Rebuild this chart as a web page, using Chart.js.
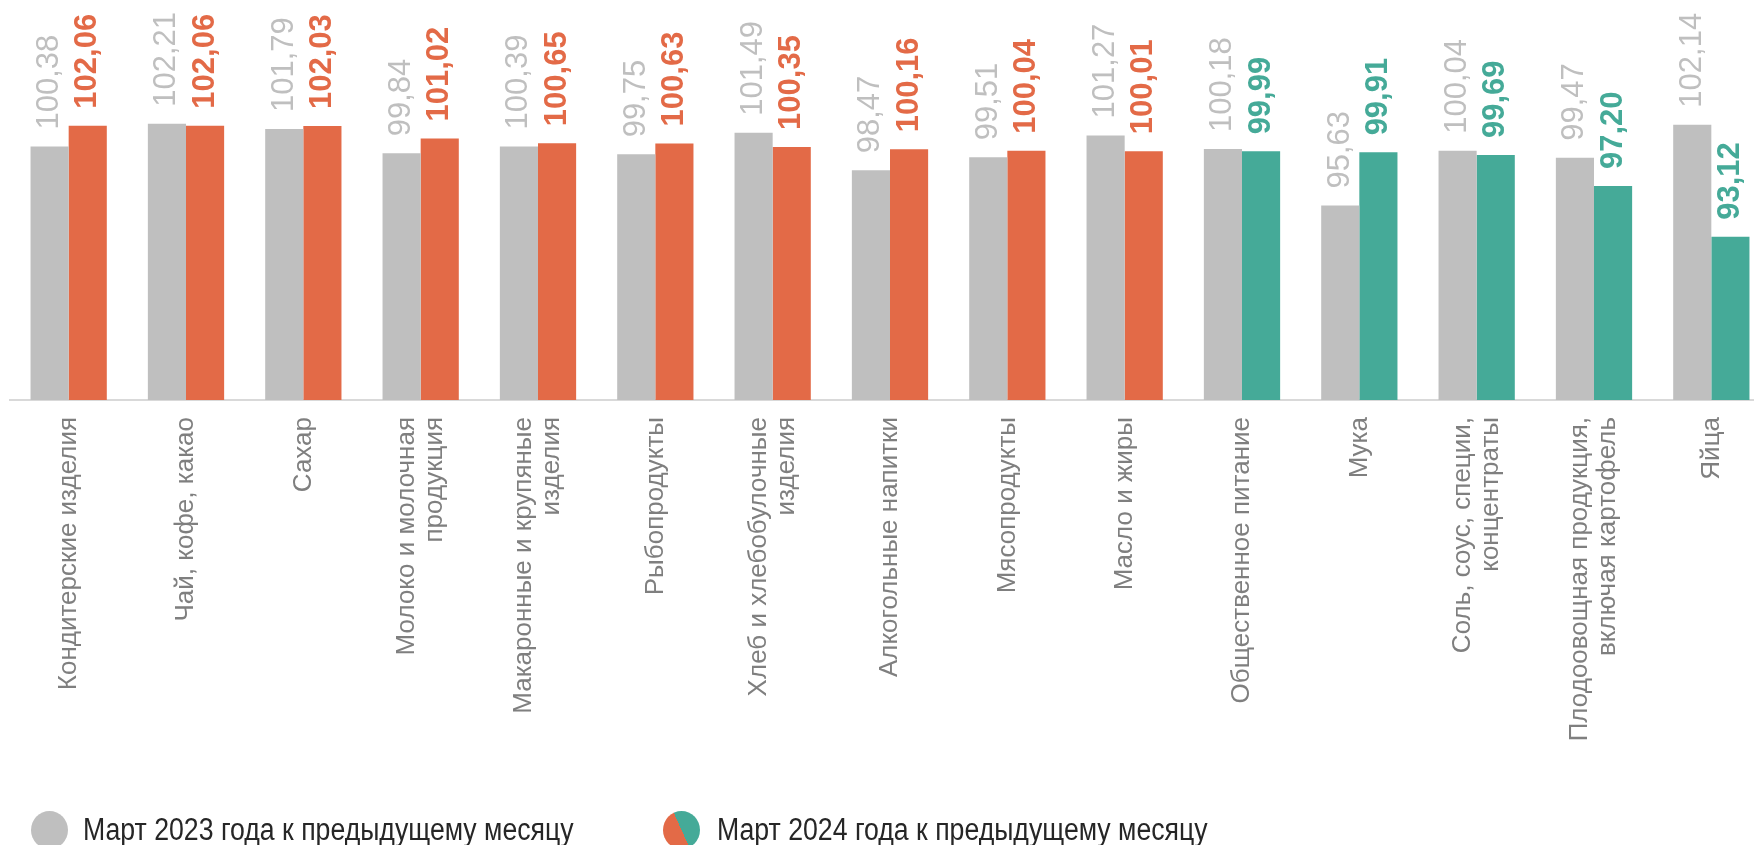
<!DOCTYPE html>
<html lang="ru">
<head>
<meta charset="utf-8">
<script src="https://cdn.jsdelivr.net/npm/chart.js@4.4.1/dist/chart.umd.min.js"></script>
<style>
    html, body { margin: 0; padding: 0; background: #fff; overflow: hidden; }
    #wrap { position: relative; width: 1754px; height: 845px; overflow: hidden; }
    #chart { position: absolute; left: 0; top: 0; }
    .legend-item { position: absolute; top: 811px; height: 38px; }
    .dot { position: absolute; top: 0; width: 37px; height: 38px; border-radius: 50%; }
    .legend-text {
        position: absolute; top: 1px; white-space: nowrap;
        font: 31px "Liberation Sans", Arial, sans-serif; color: #262626;
        transform: scaleX(0.86); transform-origin: left center; line-height: 36px;
    }
</style>
</head>
<body>
<div id="wrap">
    <canvas id="chart" width="1770" height="845"></canvas>
    <div class="legend-item" style="left:31px">
        <div class="dot" style="background:#bfbfbf"></div>
        <div class="legend-text" style="left:52px">Март 2023 года к предыдущему месяцу</div>
    </div>
    <div class="legend-item" style="left:663px">
        <div class="dot" style="background:linear-gradient(66deg, #e36a47 50%, #45aa98 50%)"></div>
        <div class="legend-text" style="left:54px">Март 2024 года к предыдущему месяцу</div>
    </div>
</div>
<script>
// categories (multi-line ones split as in the source)
const categories = [
    "Кондитерские изделия",
    "Чай, кофе, какао",
    "Сахар",
    ["Молоко и молочная", "продукция"],
    ["Макаронные и крупяные", "изделия"],
    "Рыбопродукты",
    ["Хлеб и хлебобулочные", "изделия"],
    "Алкогольные напитки",
    "Мясопродукты",
    "Масло и жиры",
    "Общественное питание",
    "Мука",
    ["Соль, соус, специи,", "концентраты"],
    ["Плодоовощная продукция,", "включая картофель"],
    "Яйца"
];

const march2023 = [100.38, 102.21, 101.79, 99.84, 100.39, 99.75, 101.49, 98.47, 99.51, 101.27, 100.18, 95.63, 100.04, 99.47, 102.14];
const march2024 = [102.06, 102.06, 102.03, 101.02, 100.65, 100.63, 100.35, 100.16, 100.04, 100.01, 99.99, 99.91, 99.69, 97.20, 93.12];

const GRAY = "#bfbfbf";
const ORANGE = "#e36a47";
const TEAL = "#45aa98";
const FONT = '"Liberation Sans", Arial, sans-serif';

// growth -> orange, decline -> teal
const colorFor = v => v >= 100 ? ORANGE : TEAL;
const fmt = v => v.toFixed(2).replace(".", ",");

// rotated value labels above each bar
const valueLabels = {
    id: "valueLabels",
    afterDatasetsDraw(chart) {
        const ctx = chart.ctx;
        chart.data.datasets.forEach((ds, di) => {
            const meta = chart.getDatasetMeta(di);
            meta.data.forEach((bar, i) => {
                const v = ds.data[i];
                ctx.save();
                ctx.translate(bar.x, bar.y - 17);
                ctx.rotate(-Math.PI / 2);
                ctx.font = (di === 0 ? "" : "bold ") + "31px " + FONT;
                ctx.fillStyle = di === 0 ? GRAY : colorFor(v);
                ctx.textAlign = "left";
                ctx.textBaseline = "middle";
                ctx.fillText(fmt(v), 0, 0);
                ctx.restore();
            });
        });
    }
};

// vertical category labels, multi-line blocks centred on the tick
const categoryLabels = {
    id: "categoryLabels",
    afterDraw(chart) {
        const ctx = chart.ctx;
        const xs = chart.scales.x;
        const lh = 28;
        categories.forEach((lab, i) => {
            const lines = Array.isArray(lab) ? lab : [lab];
            const x = xs.getPixelForTick(i);
            lines.forEach((line, j) => {
                ctx.save();
                ctx.translate(x + (j - (lines.length - 1) / 2) * lh, xs.top + 17);
                ctx.rotate(-Math.PI / 2);
                ctx.font = "26px " + FONT;
                ctx.fillStyle = "#7f7f7f";
                ctx.textAlign = "right";
                ctx.textBaseline = "middle";
                ctx.fillText(line, 0, 0);
                ctx.restore();
            });
        });
    }
};

const ctx = document.getElementById("chart").getContext("2d");

new Chart(ctx, {
    type: "bar",
    data: {
        labels: categories,
        datasets: [
            {
                label: "Март 2023 года к предыдущему месяцу",
                data: march2023,
                backgroundColor: GRAY
            },
            {
                label: "Март 2024 года к предыдущему месяцу",
                data: march2024,
                backgroundColor: march2024.map(colorFor)
            }
        ]
    },
    options: {
        responsive: false,
        animation: false,
        devicePixelRatio: 1,
        categoryPercentage: 0.65,
        barPercentage: 1,
        layout: { padding: { left: 10, top: 2, right: 0, bottom: 0 } },
        plugins: {
            legend: { display: false },
            tooltip: { enabled: false }
        },
        scales: {
            y: {
                display: false,
                min: 80,
                max: 112
            },
            x: {
                grid: { display: false },
                border: { display: true, color: "#d9d9d9", width: 2 },
                ticks: { display: false },
                afterFit: scale => { scale.height = 445; }
            }
        }
    },
    plugins: [valueLabels, categoryLabels]
});
</script>
</body>
</html>
